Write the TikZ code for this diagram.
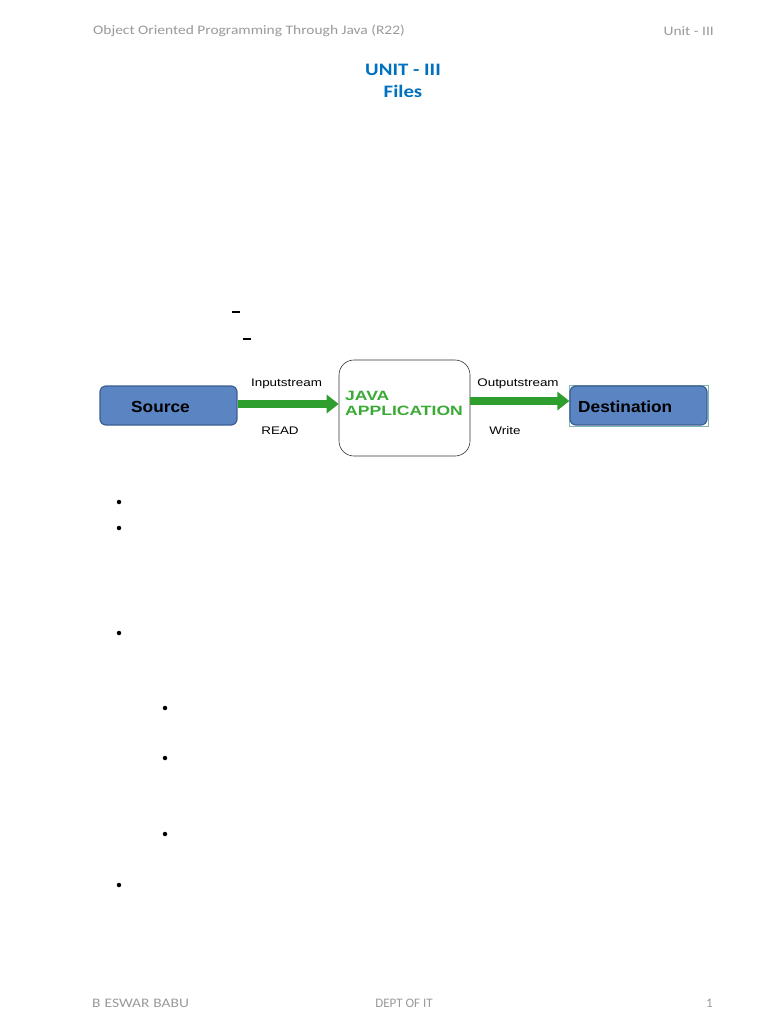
\documentclass[tikz,border=0pt]{standalone}
\usepackage{fontspec}
\setmainfont{Liberation Sans}
\newfontfamily\calibw[FakeStretch=1.19]{Carlito}
\newfontfamily\calib{Carlito}
\newfontfamily\boxfont[FakeStretch=1.08]{Liberation Sans}
\newfontfamily\appfont[FakeStretch=1.3]{Liberation Sans}
\newfontfamily\lblfont[FakeStretch=1.22]{Liberation Sans}
\usetikzlibrary{arrows.meta}
\definecolor{hdrgrey}{HTML}{9A9A9A}
\definecolor{titleblue}{HTML}{0070C0}
\definecolor{boxblue}{HTML}{5A84C2}
\definecolor{boxedge}{HTML}{3C5F92}
\definecolor{flowgreen}{HTML}{2E9E2E}
\definecolor{appgreen}{HTML}{3AAA35}
\definecolor{selteal}{HTML}{7FB8B0}
\tikzset{
  hdr/.style={font=\calibw\fontsize{13}{15}\selectfont, text=hdrgrey, inner sep=0pt},
  ttl/.style={font=\calibw\bfseries\fontsize{17.5}{20}\selectfont, text=titleblue, inner sep=0pt},
  endbox/.style={draw=boxedge, line width=1.2pt, fill=boxblue, rounded corners=6pt, minimum width=137pt, minimum height=39pt, inner sep=0pt},
  boxtxt/.style={font=\boxfont\bfseries\fontsize{16}{18}\selectfont, inner sep=0pt, anchor=west},
  appbox/.style={draw=black!80, line width=0.6pt, fill=white, rounded corners=15pt, minimum width=131pt, minimum height=96pt, inner sep=0pt},
  apptxt/.style={font=\appfont\bfseries\fontsize{13.5}{16}\selectfont, text=appgreen, inner sep=0pt, anchor=west},
  flow/.style={draw=flowgreen, line width=8.5pt, -{Triangle[length=12pt,width=18pt,fill=flowgreen]}},
  lbl/.style={font=\lblfont\fontsize{11}{13}\selectfont, inner sep=0pt},
  bul/.style={circle, fill=black, inner sep=0pt, minimum size=4.5pt},
  ftr/.style={font=\calib\fontsize{13}{15}\selectfont, text=hdrgrey, inner sep=0pt}
}
\begin{document}
\begin{tikzpicture}[x=1pt,y=-1pt]
\useasboundingbox[fill=white] (0,0) rectangle (768,1024);
% header
\node[hdr, anchor=west] (hl) at (93,31) {Object Oriented Programming Through Java (R22)};
\node[hdr, anchor=east] (hr) at (714,31) {Unit - III};
\node[ttl] (t1) at (403,70) {UNIT - III};
\node[ttl] (t2) at (403,91) {Files};
% stray dashes
\node[inner sep=0pt] (d1) at (236,312) {\rule{8pt}{1.2pt}};
\node[inner sep=0pt] (d2) at (246.5,339) {\rule{8pt}{1.2pt}};
% diagram
\node[endbox] (src) at (168.5,405.5) {};
\node[boxtxt] (srct) at (131,407) {Source};
\node[appbox] (app) at (404.5,408) {};
\node[apptxt] (app1) at (345,396) {JAVA};
\node[apptxt] (app2) at (345,411) {APPLICATION};
\node[draw=selteal, line width=0.5pt, minimum width=139pt, minimum height=41pt, inner sep=0pt] (sel) at (638.5,405.5) {};
\node[endbox] (dst) at (638.5,405.5) {};
\node[boxtxt] (dstt) at (578,407) {Destination};
\draw[flow] (src.east |- 0,404) -- (app.west |- 0,404);
\draw[flow] (app.east |- 0,401) -- (dst.west |- 0,401);
\node[lbl] (in) at (286.5,384) {Inputstream};
\node[lbl] (rd) at (280,431) {READ};
\node[lbl] (out) at (518,384) {Outputstream};
\node[lbl] (wr) at (505,431) {Write};
% bullets
\node[bul] (b1) at (119,502) {};
\node[bul] (b2) at (119,528) {};
\node[bul] (b3) at (119,633) {};
\node[bul] (b4) at (165,708) {};
\node[bul] (b5) at (165,758) {};
\node[bul] (b6) at (165,834) {};
\node[bul] (b7) at (119,885) {};
% footer
\node[ftr, font=\calibw\fontsize{13}{15}\selectfont, anchor=west] (f1) at (92,1003) {B\hspace{4pt}ESWAR\hspace{4pt}BABU};
\node[ftr] (f2) at (404,1003) {DEPT OF IT};
\node[ftr, anchor=east] (f3) at (713,1003) {1};
\end{tikzpicture}
\end{document}
